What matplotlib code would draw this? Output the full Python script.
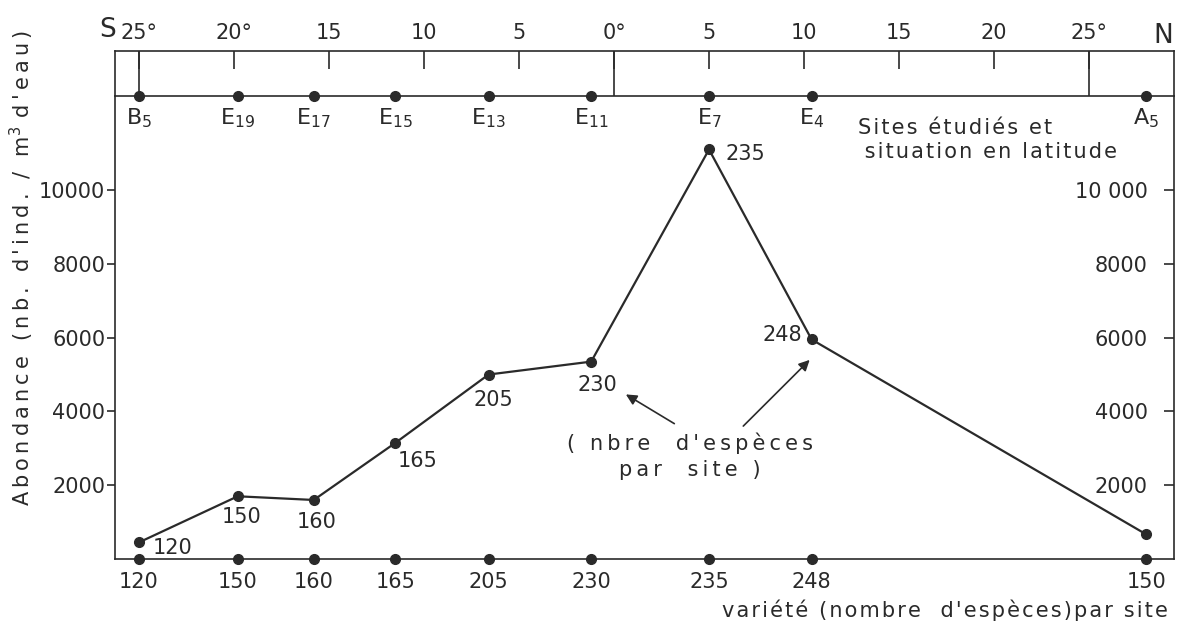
import matplotlib
matplotlib.use("Agg")
import matplotlib.pyplot as plt

# ---------------- data ----------------
site_letters = ["B", "E", "E", "E", "E", "E", "E", "E", "A"]
site_nums = ["5", "19", "17", "15", "13", "11", "7", "4", "5"]
site_lat = [-25.0, -19.8, -15.8, -11.5, -6.6, -1.2, 5.0, 10.4, 28.0]
abundance = [450, 1700, 1600, 3150, 5000, 5350, 11100, 5950, 670]
species = [120, 150, 160, 165, 205, 230, 235, 248, 150]
show_point_label = [True, True, True, True, True, True, True, True, False]

lat_ticks = [-25, -20, -15, -10, -5, 0, 5, 10, 15, 20, 25]
lat_labels = ["25°", "20°", "15", "10", "5", "0°", "5", "10", "15", "20", "25°"]
lat_full_lines = [-25, 0, 25]

y_ticks = [2000, 4000, 6000, 8000, 10000]
y_left_labels = ["2000", "4000", "6000", "8000", "10000"]
y_right_labels = ["2000", "4000", "6000", "8000", "10 000"]

# ---------------- layout / style ----------------
W, H = 1177, 627
ink = "#2a2a2a"
FS = 15
plt.rcParams["font.family"] = ["DejaVu Sans"]
THIN = "\u2009"
HAIR = "\u200a"


def spaced(s, sp):
    return sp.join(list(s))


def fx(px):
    return px / W


def fy(py):
    return 1 - py / H


fig = plt.figure(figsize=(W / 100, H / 100), dpi=100)
fig.patch.set_facecolor("white")

x_lo, x_hi = -26.26, 29.47
left_px, right_px = 115, 1174
base_px, site_px, top_px = 559, 96, 51

ax = fig.add_axes([fx(left_px), fy(base_px), fx(right_px) - fx(left_px), fy(site_px) - fy(base_px)])
axb = fig.add_axes([fx(left_px), fy(site_px), fx(right_px) - fx(left_px), fy(top_px) - fy(site_px)])

for a in (ax, axb):
    a.set_facecolor("none")
    for s in a.spines.values():
        s.set_color(ink)
        s.set_linewidth(1.2)

# ---------------- main plot ----------------
ax.set_xlim(x_lo, x_hi)
ax.set_ylim(0, 12550)
ax.spines["top"].set_visible(False)

ax.plot(site_lat, abundance, "-o", color=ink, lw=1.6, ms=7, zorder=3)

offsets = [(34, -6), (4, -21), (3, -22), (22, -18), (5, -25), (6, -23), (36, -5), (-29, 4), (0, 0)]
for x, y, sp, show, off in zip(site_lat, abundance, species, show_point_label, offsets):
    if show:
        ax.annotate(str(sp), xy=(x, y), xytext=off, textcoords="offset pixels",
                    ha="center", va="center", fontsize=FS, color=ink)

# bottom axis: species counts with dots
ax.plot(site_lat, [0] * len(site_lat), "o", color=ink, ms=7, clip_on=False, zorder=4)
ax.set_xticks(site_lat)
ax.set_xticklabels([str(s) for s in species])
ax.tick_params(axis="x", length=0, pad=9, labelsize=FS, colors=ink)

# left axis
ax.set_yticks(y_ticks)
ax.set_yticklabels(y_left_labels)
ax.tick_params(axis="y", direction="out", length=6, width=1.2, pad=1, labelsize=FS, colors=ink)

# right axis (labels inside)
ax2 = ax.twinx()
ax2.set_ylim(ax.get_ylim())
ax2.set_facecolor("none")
for s in ax2.spines.values():
    s.set_visible(False)
ax2.set_yticks(y_ticks)
ax2.set_yticklabels(y_right_labels)
ax2.tick_params(axis="y", direction="in", length=7, width=1.2, pad=-19, labelsize=FS, colors=ink)
for lbl in ax2.get_yticklabels():
    lbl.set_ha("right")

# annotation: (nbre d'espèces par site)
note = spaced("( nbre  d'espèces", THIN) + "\n" + spaced("par  site )", THIN)
ax.text(4.0, 2780, note, ha="center", va="center", fontsize=FS, color=ink, linespacing=1.35)
ax.annotate("", xy=(0.5, 4500), xytext=(3.3, 3630),
            arrowprops=dict(arrowstyle="-|>", color=ink, lw=1.2, mutation_scale=16))
ax.annotate("", xy=(10.4, 5450), xytext=(6.7, 3550),
            arrowprops=dict(arrowstyle="-|>", color=ink, lw=1.2, mutation_scale=16))

# ---------------- latitude band ----------------
axb.set_xlim(x_lo, x_hi)
axb.set_ylim(0, 1)
axb.set_yticks([])
axb.xaxis.tick_top()
axb.set_xticks(lat_ticks)
axb.set_xticklabels(lat_labels)
axb.tick_params(axis="x", direction="in", length=13, width=1.2, pad=6, labelsize=FS, colors=ink,
                top=True, bottom=False)
for lx in lat_full_lines:
    axb.axvline(lx, color=ink, lw=1.2)

axb.plot(site_lat, [0] * len(site_lat), "o", color=ink, ms=7, clip_on=False, zorder=4)
for x, letter, num in zip(site_lat, site_letters, site_nums):
    axb.annotate(letter + r"$_{\mathregular{" + num + "}}$", xy=(x, 0), xytext=(0, -22),
                 textcoords="offset pixels", ha="center", va="center", fontsize=16, color=ink)

fig.text(fx(108), fy(30), "S", fontsize=19, color=ink, ha="center", va="center")
fig.text(fx(1163), fy(36), "N", fontsize=19, color=ink, ha="center", va="center")

sites_txt = spaced("Sites étudiés et", HAIR) + "\n " + spaced("situation en latitude", HAIR)
fig.text(fx(858), fy(140), sites_txt, ha="left", va="center",
         fontsize=FS, color=ink, linespacing=1.2)

ylab = (spaced("Abondance (nb. d'ind. / m", THIN) + "$^{\\mathregular{3}}$" + THIN + THIN
        + spaced("d'eau)", THIN))
fig.text(fx(22), fy(268), ylab, rotation=90, ha="center", va="center", fontsize=FS, color=ink)

fig.text(fx(1168), fy(610), spaced("variété (nombre  d'espèces)par site", HAIR), ha="right",
         va="center", fontsize=FS, color=ink)

fig.savefig("out.png", dpi=100, facecolor="white")
